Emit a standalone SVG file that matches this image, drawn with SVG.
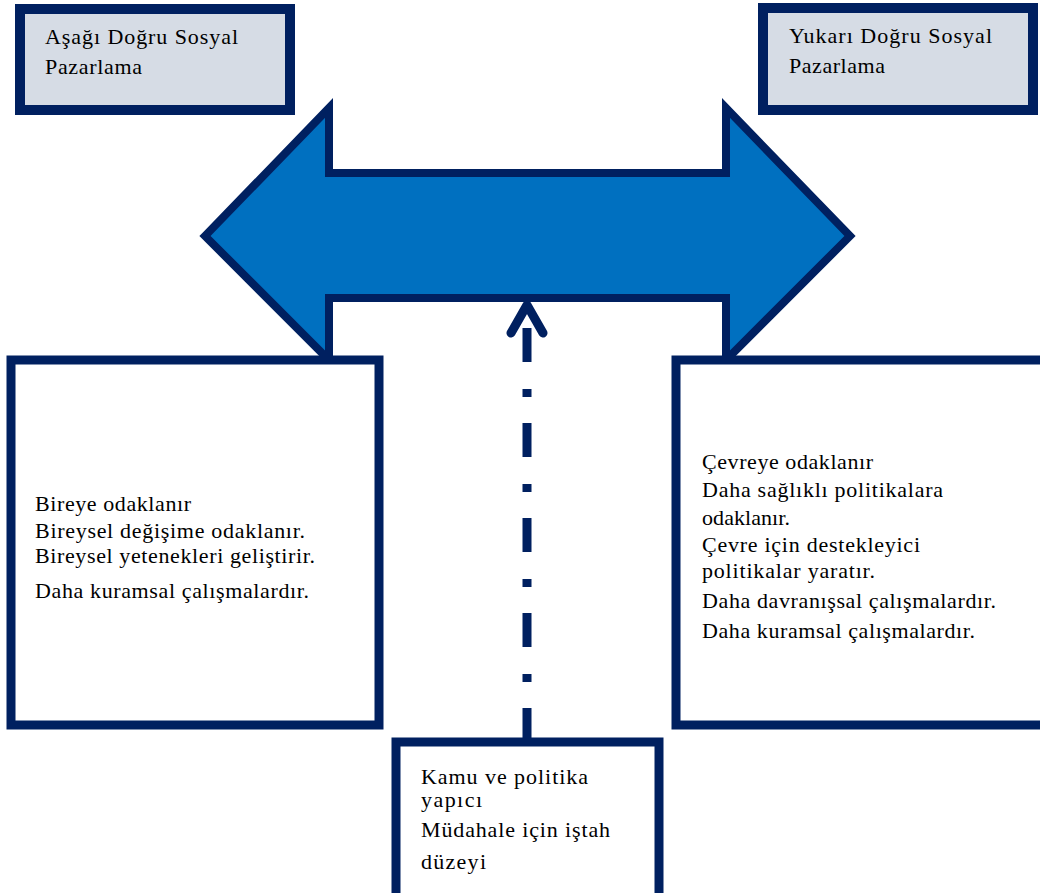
<svg xmlns="http://www.w3.org/2000/svg" width="1040" height="893" viewBox="0 0 1040 893">
<style>
.box{fill:#ffffff;stroke:#002060;stroke-width:9}
.hdr{fill:#D6DCE5;stroke:#002060;stroke-width:10}
.t{font-family:"Liberation Serif","Times New Roman",serif;font-size:22px;fill:#000000}
.conn{fill:none;stroke:#002060;stroke-width:9}
</style>
<rect width="1040" height="893" fill="#ffffff"/>
<g id="double-arrow">
<polygon points="205,236 329,108 329,173 726,173 726,108 850,236 726,360 726,298 329,298 329,360" fill="#0070C0" stroke="#002060" stroke-width="8" stroke-linejoin="miter"/>
</g>
<g id="connectors">
<line class="conn" x1="527" y1="742" x2="527" y2="305" stroke-dasharray="34 26 8 27"/>
<polyline class="conn" points="511,333 527,305 543,333" stroke-width="8" stroke-linecap="round" stroke-linejoin="round"/>
</g>
<g id="node-asagi">
<rect class="hdr" x="20" y="9" width="270" height="101"/>
<text class="t" x="45" y="44" textLength="193" lengthAdjust="spacing">Aşağı Doğru Sosyal</text>
<text class="t" x="45" y="74" textLength="97" lengthAdjust="spacing">Pazarlama</text>
</g>
<g id="node-yukari">
<rect class="hdr" x="763" y="8" width="270" height="102"/>
<text class="t" x="789" y="43" textLength="203" lengthAdjust="spacing">Yukarı Doğru Sosyal</text>
<text class="t" x="789" y="73" textLength="96" lengthAdjust="spacing">Pazarlama</text>
</g>
<g id="node-left">
<rect class="box" x="11" y="360" width="368" height="365"/>
<text class="t" x="35" y="511" textLength="156" lengthAdjust="spacing">Bireye odaklanır</text>
<text class="t" x="35" y="538" textLength="270" lengthAdjust="spacing">Bireysel değişime  odaklanır.</text>
<text class="t" x="35" y="563" textLength="280" lengthAdjust="spacing">Bireysel yetenekleri geliştirir.</text>
<text class="t" x="35" y="598" textLength="274" lengthAdjust="spacing">Daha kuramsal çalışmalardır.</text>
</g>
<g id="node-right">
<rect class="box" x="676" y="360" width="372" height="365"/>
<text class="t" x="702" y="469" textLength="171" lengthAdjust="spacing">Çevreye odaklanır</text>
<text class="t" x="702" y="497" textLength="241" lengthAdjust="spacing">Daha sağlıklı  politikalara</text>
<text class="t" x="702" y="525" textLength="88" lengthAdjust="spacing">odaklanır.</text>
<text class="t" x="702" y="552" textLength="218" lengthAdjust="spacing">Çevre için destekleyici</text>
<text class="t" x="702" y="578" textLength="173" lengthAdjust="spacing">politikalar yaratır.</text>
<text class="t" x="702" y="608" textLength="294" lengthAdjust="spacing">Daha davranışsal çalışmalardır.</text>
<text class="t" x="702" y="638" textLength="273" lengthAdjust="spacing">Daha kuramsal çalışmalardır.</text>
</g>
<g id="node-bottom">
<rect class="box" x="396" y="742" width="263" height="165"/>
<text class="t" x="421" y="784" textLength="167" lengthAdjust="spacing">Kamu ve politika</text>
<text class="t" x="421" y="807" textLength="61" lengthAdjust="spacing">yapıcı</text>
<text class="t" x="421" y="837" textLength="189" lengthAdjust="spacing">Müdahale için iştah</text>
<text class="t" x="421" y="869" textLength="65" lengthAdjust="spacing">düzeyi</text>
</g>
</svg>
